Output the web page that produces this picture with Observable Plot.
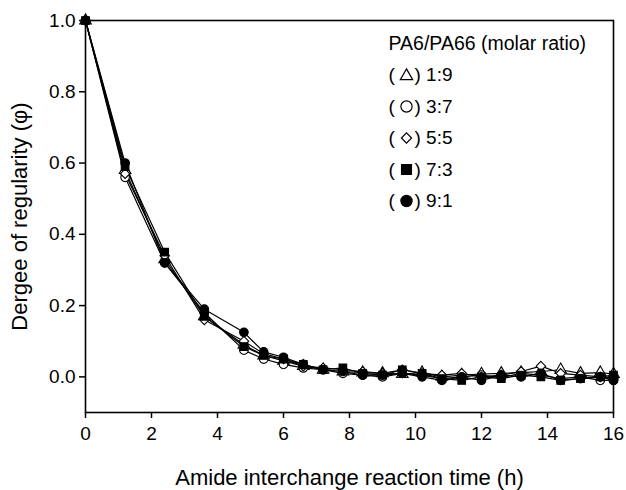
<!DOCTYPE html>
<html>
<head>
<meta charset="utf-8">
<script src="https://cdn.jsdelivr.net/npm/d3@7"></script>
<script src="https://cdn.jsdelivr.net/npm/@observablehq/plot@0.6"></script>
<style>
  html, body { margin: 0; padding: 0; background: #fff; }
  #chart svg { font-family: "Liberation Sans", Arial, sans-serif; overflow: visible; }
</style>
</head>
<body>
<div id="chart"></div>
<script>
// ---- data ----
const times = [0, 1.2, 2.4, 3.6, 4.8, 5.4, 6.0, 6.6, 7.2, 7.8, 8.4, 9.0, 9.6, 10.2, 10.8, 11.4, 12.0, 12.6, 13.2, 13.8, 14.4, 15.0, 15.6, 16.0];
const ratio19 = [1.0, 0.58, 0.33, 0.17, 0.09, 0.06, 0.045, 0.03, 0.02, 0.015, 0.012, 0.01, 0.008, 0.012, 0.0, 0.005, 0.008, 0.01, 0.012, 0.015, 0.02, 0.01, 0.012, 0.008];
const ratio37 = [1.0, 0.56, 0.32, 0.18, 0.075, 0.05, 0.035, 0.025, 0.02, 0.01, 0.005, 0.0, 0.01, 0.005, -0.005, 0.0, 0.005, -0.002, 0.01, 0.005, -0.005, 0.0, -0.01, -0.01];
const ratio55 = [1.0, 0.57, 0.34, 0.16, 0.10, 0.065, 0.05, 0.03, 0.025, 0.02, 0.015, 0.01, 0.02, 0.01, 0.005, 0.01, 0.0, 0.005, 0.015, 0.03, 0.01, 0.005, 0.0, -0.005];
const ratio73 = [1.0, 0.59, 0.35, 0.17, 0.085, 0.06, 0.05, 0.035, 0.02, 0.025, 0.01, 0.005, 0.02, 0.01, -0.005, -0.01, 0.0, -0.005, 0.005, 0.0, -0.01, -0.005, 0.0, 0.005];
const ratio91 = [1.0, 0.60, 0.32, 0.19, 0.125, 0.07, 0.055, 0.035, 0.02, 0.015, 0.005, 0.005, 0.01, 0.0, -0.01, 0.0, -0.01, 0.005, 0.0, 0.01, -0.01, -0.005, 0.0, -0.01];

const seriesNames = ["1:9", "3:7", "5:5", "7:3", "9:1"];
const seriesValues = [ratio19, ratio37, ratio55, ratio73, ratio91];
const seriesSymbols = ["triangle", "circle", "diamond2", "square", "circle"];
const seriesFills = ["white", "white", "white", "black", "black"];

const xTicks = [0, 2, 4, 6, 8, 10, 12, 14, 16];
const yTicks = [0.0, 0.2, 0.4, 0.6, 0.8, 1.0];
const legendTitle = "PA6/PA66 (molar ratio)";
const xLabel = "Amide interchange reaction time (h)";
const yLabel = "Dergee of regularity (\u03c6)";

// ---- build table ----
const rows = [];
seriesNames.forEach((name, si) => {
  times.forEach((t, i) => {
    rows.push({series: name, t, phi: seriesValues[si][i], symbol: seriesSymbols[si], fill: seriesFills[si]});
  });
});

const legendRows = seriesNames.map((name, i) => ({name, symbol: seriesSymbols[i], fill: seriesFills[i]}));
const legendR = {triangle: 4.6, circle: 5.6, diamond2: 4.6, square: 5.6};

const legendDx = 303, legendTop = 23, legendStep = 31.5;
const legendMarks = legendRows.flatMap((d, i) => {
  const dy = legendTop + (i + 1) * legendStep;
  return [
    Plot.text([d], {text: () => "(", frameAnchor: "top-left", dx: legendDx, dy, textAnchor: "start", lineAnchor: "middle", fontSize: 19, fill: "black"}),
    Plot.dot([d], {frameAnchor: "top-left", dx: legendDx + 18, dy: dy + (d.symbol === "triangle" ? 1 : 0), symbol: () => d.symbol, r: legendR[d.symbol], fill: d.fill, stroke: "black", strokeWidth: 1.2}),
    Plot.text([d], {text: (e) => ") " + e.name, frameAnchor: "top-left", dx: legendDx + 26, dy, textAnchor: "start", lineAnchor: "middle", fontSize: 19, fill: "black"})
  ];
});

const chart = Plot.plot({
  width: 626,
  height: 490,
  marginLeft: 85,
  marginRight: 13,
  marginTop: 20,
  marginBottom: 78,
  style: {fontSize: "19px", fontFamily: "Liberation Sans, Arial, sans-serif", background: "white", color: "black", overflow: "visible"},
  x: {domain: [0, 16]},
  y: {domain: [-0.1, 1.0]},
  symbol: {domain: ["triangle", "circle", "diamond2", "square"], range: ["triangle", "circle", "diamond2", "square"]},
  marks: [
    Plot.line(rows, {x: "t", y: "phi", z: "series", stroke: "black", strokeWidth: 1.2}),
    Plot.dot(rows, {x: "t", y: "phi", symbol: "symbol", fill: (d) => d.fill, stroke: "black", strokeWidth: 1.1, r: 4.3}),
    Plot.frame({stroke: "black", strokeWidth: 1.6}),
    Plot.axisX({ticks: xTicks, tickSize: 6, tickPadding: 8, tickFormat: d3.format("d"), fontSize: 19, label: null, stroke: "black", strokeWidth: 1.5}),
    Plot.axisY({ticks: yTicks, tickSize: 6, tickPadding: 4, tickFormat: d3.format(".1f"), fontSize: 19, label: null, stroke: "black", strokeWidth: 1.5}),
    Plot.text([xLabel], {text: (d) => d, frameAnchor: "bottom", dy: 65, textAnchor: "middle", lineAnchor: "middle", fontSize: 22, fill: "black"}),
    Plot.text([yLabel], {text: (d) => d, frameAnchor: "left", dx: -66, rotate: -90, textAnchor: "middle", lineAnchor: "middle", fontSize: 22, fill: "black"}),
    Plot.text([legendTitle], {text: (d) => d, frameAnchor: "top-left", dx: legendDx, dy: legendTop, textAnchor: "start", lineAnchor: "middle", fontSize: 19.5, fill: "black"}),
    ...legendMarks
  ]
});
document.getElementById("chart").appendChild(chart);
</script>
</body>
</html>
